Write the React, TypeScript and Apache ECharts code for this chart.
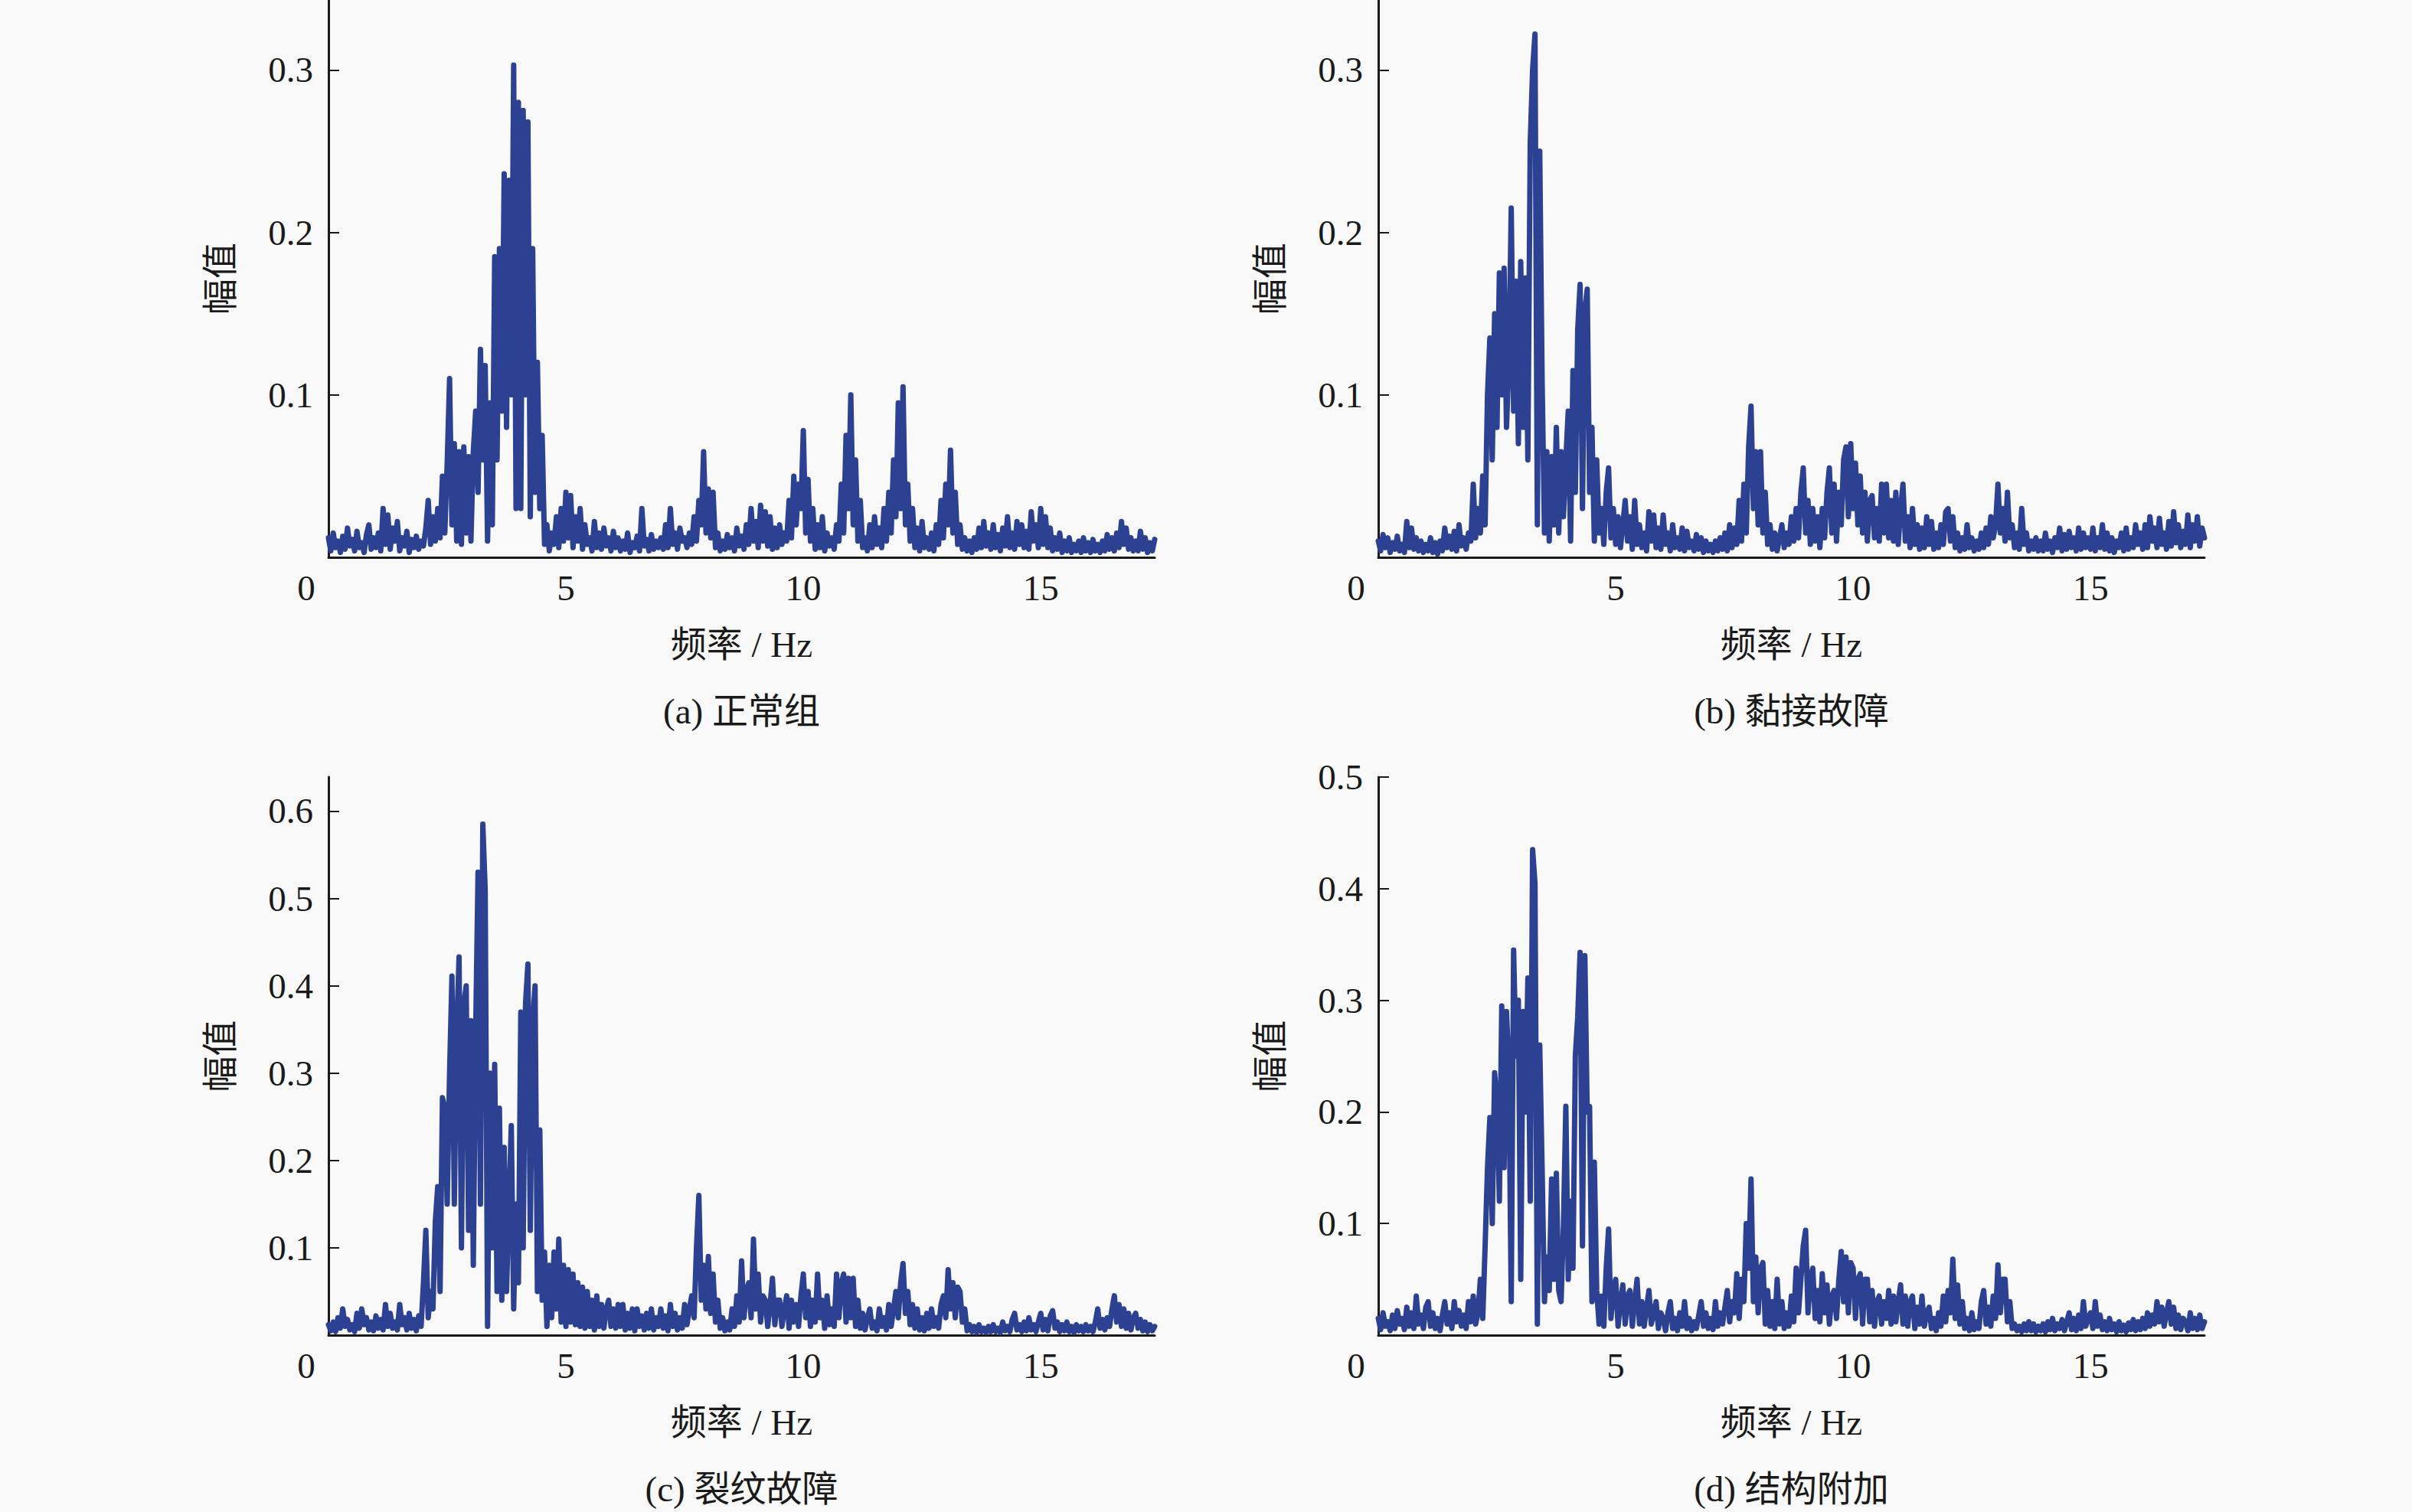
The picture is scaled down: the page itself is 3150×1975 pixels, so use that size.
import React, { useEffect, useRef } from "react";
import * as echarts from "echarts";

// Sample spacing of the spectra (Hz) and axis extents
const FREQ_STEP = 0.05;
const X_MAX = 17.4;
const X_TICKS = [5, 10, 15];

// (a) 正常组 amplitude, 0 … 17.4 Hz every 0.05 Hz
const AMP_A = [
  0.012, 0.004, 0.015, 0.006, 0.010, 0.003, 0.013, 0.005, 0.018, 0.007, 0.011, 0.004, 0.016, 0.006, 0.009, 0.003, 0.014, 0.020, 0.005, 0.012,
  0.006, 0.015, 0.004, 0.030, 0.008, 0.026, 0.005, 0.018, 0.010, 0.022, 0.004, 0.012, 0.007, 0.016, 0.003, 0.011, 0.006, 0.013, 0.005, 0.010,
  0.007, 0.018, 0.035, 0.008, 0.025, 0.010, 0.030, 0.012, 0.050, 0.015, 0.058, 0.110, 0.020, 0.070, 0.010, 0.065, 0.008, 0.068, 0.015, 0.062,
  0.010, 0.065, 0.090, 0.040, 0.128, 0.060, 0.118, 0.010, 0.095, 0.020, 0.185, 0.060, 0.190, 0.090, 0.236, 0.080, 0.232, 0.100, 0.303, 0.030,
  0.280, 0.030, 0.275, 0.100, 0.268, 0.025, 0.190, 0.040, 0.120, 0.030, 0.075, 0.008, 0.020, 0.004, 0.015, 0.008, 0.025, 0.006, 0.030, 0.010,
  0.040, 0.012, 0.038, 0.006, 0.025, 0.010, 0.030, 0.005, 0.020, 0.008, 0.012, 0.004, 0.022, 0.006, 0.015, 0.005, 0.018, 0.007, 0.012, 0.004,
  0.016, 0.006, 0.012, 0.004, 0.010, 0.005, 0.015, 0.003, 0.009, 0.006, 0.013, 0.004, 0.030, 0.007, 0.011, 0.004, 0.014, 0.005, 0.010, 0.006,
  0.012, 0.005, 0.020, 0.006, 0.030, 0.008, 0.015, 0.005, 0.018, 0.010, 0.012, 0.006, 0.015, 0.008, 0.025, 0.010, 0.035, 0.020, 0.065, 0.015,
  0.042, 0.012, 0.040, 0.006, 0.015, 0.004, 0.010, 0.005, 0.014, 0.006, 0.012, 0.004, 0.018, 0.007, 0.013, 0.005, 0.020, 0.008, 0.030, 0.010,
  0.022, 0.006, 0.032, 0.010, 0.028, 0.007, 0.025, 0.005, 0.018, 0.006, 0.020, 0.008, 0.015, 0.010, 0.035, 0.012, 0.050, 0.020, 0.045, 0.030,
  0.078, 0.015, 0.048, 0.010, 0.030, 0.005, 0.020, 0.006, 0.025, 0.004, 0.015, 0.007, 0.012, 0.005, 0.020, 0.010, 0.045, 0.015, 0.075, 0.030,
  0.100, 0.020, 0.060, 0.010, 0.035, 0.006, 0.012, 0.004, 0.020, 0.006, 0.025, 0.008, 0.018, 0.006, 0.030, 0.010, 0.040, 0.015, 0.060, 0.025,
  0.095, 0.030, 0.105, 0.020, 0.045, 0.010, 0.030, 0.006, 0.018, 0.004, 0.022, 0.006, 0.012, 0.005, 0.015, 0.004, 0.020, 0.008, 0.035, 0.012,
  0.045, 0.020, 0.066, 0.015, 0.040, 0.008, 0.020, 0.005, 0.012, 0.004, 0.010, 0.003, 0.012, 0.005, 0.018, 0.006, 0.022, 0.007, 0.015, 0.005,
  0.020, 0.006, 0.014, 0.004, 0.018, 0.007, 0.025, 0.006, 0.015, 0.005, 0.022, 0.008, 0.020, 0.006, 0.016, 0.005, 0.028, 0.010, 0.020, 0.006,
  0.030, 0.008, 0.025, 0.006, 0.018, 0.004, 0.012, 0.005, 0.015, 0.003, 0.010, 0.004, 0.012, 0.003, 0.008, 0.004, 0.010, 0.003, 0.012, 0.004,
  0.009, 0.003, 0.011, 0.004, 0.008, 0.003, 0.010, 0.004, 0.014, 0.005, 0.012, 0.004, 0.015, 0.006, 0.022, 0.008, 0.018, 0.005, 0.012, 0.004,
  0.010, 0.004, 0.016, 0.005, 0.012, 0.003, 0.009, 0.004, 0.011,
];

// (b) 黏接故障
const AMP_B = [
  0.010, 0.004, 0.014, 0.006, 0.012, 0.003, 0.009, 0.005, 0.013, 0.004, 0.008, 0.003, 0.022, 0.006, 0.018, 0.005, 0.012, 0.004, 0.010, 0.003,
  0.008, 0.004, 0.012, 0.003, 0.009, 0.002, 0.010, 0.004, 0.018, 0.006, 0.013, 0.005, 0.016, 0.004, 0.020, 0.007, 0.012, 0.005, 0.015, 0.010,
  0.045, 0.012, 0.030, 0.015, 0.050, 0.020, 0.100, 0.135, 0.060, 0.150, 0.080, 0.175, 0.100, 0.178, 0.080, 0.120, 0.215, 0.090, 0.170, 0.070,
  0.182, 0.080, 0.172, 0.060, 0.255, 0.300, 0.322, 0.020, 0.250, 0.110, 0.015, 0.065, 0.010, 0.062, 0.020, 0.080, 0.015, 0.065, 0.025, 0.060,
  0.090, 0.010, 0.115, 0.040, 0.140, 0.168, 0.030, 0.152, 0.165, 0.040, 0.080, 0.010, 0.060, 0.015, 0.030, 0.008, 0.040, 0.055, 0.012, 0.030,
  0.008, 0.025, 0.006, 0.020, 0.035, 0.010, 0.025, 0.005, 0.035, 0.008, 0.020, 0.006, 0.015, 0.004, 0.028, 0.010, 0.026, 0.006, 0.018, 0.005,
  0.026, 0.008, 0.015, 0.004, 0.020, 0.006, 0.012, 0.005, 0.018, 0.004, 0.016, 0.006, 0.010, 0.004, 0.014, 0.005, 0.012, 0.003, 0.010, 0.004,
  0.008, 0.003, 0.010, 0.004, 0.012, 0.005, 0.015, 0.004, 0.020, 0.006, 0.018, 0.008, 0.035, 0.010, 0.045, 0.015, 0.068, 0.093, 0.030, 0.065,
  0.020, 0.065, 0.015, 0.040, 0.008, 0.020, 0.005, 0.015, 0.004, 0.012, 0.020, 0.006, 0.015, 0.008, 0.025, 0.010, 0.030, 0.012, 0.040, 0.055,
  0.015, 0.035, 0.008, 0.030, 0.010, 0.025, 0.006, 0.030, 0.012, 0.040, 0.055, 0.015, 0.045, 0.010, 0.040, 0.020, 0.060, 0.068, 0.025, 0.070,
  0.030, 0.058, 0.020, 0.050, 0.015, 0.040, 0.010, 0.035, 0.038, 0.012, 0.030, 0.010, 0.045, 0.015, 0.045, 0.012, 0.035, 0.010, 0.040, 0.008,
  0.030, 0.045, 0.010, 0.025, 0.006, 0.030, 0.008, 0.020, 0.005, 0.018, 0.006, 0.025, 0.008, 0.022, 0.005, 0.015, 0.006, 0.020, 0.008, 0.028,
  0.030, 0.010, 0.025, 0.006, 0.015, 0.004, 0.012, 0.005, 0.020, 0.006, 0.012, 0.004, 0.010, 0.005, 0.015, 0.006, 0.018, 0.008, 0.025, 0.012,
  0.020, 0.045, 0.015, 0.030, 0.010, 0.040, 0.012, 0.020, 0.006, 0.015, 0.005, 0.030, 0.008, 0.015, 0.004, 0.010, 0.005, 0.012, 0.004, 0.010,
  0.004, 0.015, 0.005, 0.010, 0.003, 0.012, 0.006, 0.018, 0.004, 0.014, 0.005, 0.016, 0.006, 0.012, 0.004, 0.018, 0.005, 0.015, 0.006, 0.012,
  0.005, 0.018, 0.004, 0.012, 0.006, 0.020, 0.005, 0.015, 0.004, 0.012, 0.003, 0.010, 0.006, 0.015, 0.004, 0.018, 0.005, 0.012, 0.006, 0.020,
  0.008, 0.015, 0.005, 0.020, 0.006, 0.025, 0.010, 0.018, 0.006, 0.024, 0.008, 0.015, 0.005, 0.022, 0.007, 0.028, 0.009, 0.020, 0.006, 0.016,
  0.008, 0.026, 0.006, 0.020, 0.010, 0.025, 0.007, 0.018, 0.012,
];

// (c) 裂纹故障
const AMP_C = [
  0.012, 0.005, 0.015, 0.004, 0.020, 0.008, 0.030, 0.010, 0.018, 0.006, 0.012, 0.004, 0.025, 0.008, 0.030, 0.012, 0.020, 0.006, 0.015, 0.005,
  0.022, 0.008, 0.018, 0.006, 0.035, 0.010, 0.025, 0.008, 0.015, 0.006, 0.035, 0.012, 0.020, 0.006, 0.025, 0.008, 0.018, 0.005, 0.022, 0.010,
  0.060, 0.120, 0.020, 0.050, 0.030, 0.130, 0.170, 0.050, 0.272, 0.260, 0.150, 0.300, 0.411, 0.150, 0.350, 0.433, 0.100, 0.380, 0.400, 0.120,
  0.360, 0.080, 0.350, 0.530, 0.150, 0.585, 0.510, 0.010, 0.300, 0.100, 0.310, 0.050, 0.260, 0.040, 0.215, 0.050, 0.150, 0.240, 0.030, 0.150,
  0.060, 0.370, 0.100, 0.380, 0.425, 0.120, 0.360, 0.400, 0.050, 0.235, 0.040, 0.095, 0.010, 0.080, 0.020, 0.095, 0.030, 0.110, 0.015, 0.080,
  0.010, 0.075, 0.015, 0.070, 0.012, 0.060, 0.010, 0.055, 0.008, 0.050, 0.010, 0.040, 0.006, 0.045, 0.010, 0.035, 0.008, 0.030, 0.040, 0.010,
  0.030, 0.008, 0.035, 0.010, 0.035, 0.006, 0.025, 0.008, 0.030, 0.005, 0.030, 0.010, 0.022, 0.006, 0.025, 0.008, 0.030, 0.006, 0.020, 0.010,
  0.030, 0.008, 0.022, 0.005, 0.035, 0.010, 0.025, 0.006, 0.020, 0.008, 0.035, 0.012, 0.030, 0.045, 0.020, 0.100, 0.160, 0.040, 0.080, 0.030,
  0.090, 0.025, 0.070, 0.015, 0.040, 0.008, 0.020, 0.005, 0.015, 0.006, 0.030, 0.010, 0.045, 0.015, 0.085, 0.020, 0.050, 0.060, 0.020, 0.110,
  0.030, 0.070, 0.015, 0.045, 0.040, 0.010, 0.035, 0.065, 0.012, 0.040, 0.040, 0.010, 0.030, 0.045, 0.008, 0.040, 0.015, 0.035, 0.010, 0.045,
  0.070, 0.020, 0.050, 0.010, 0.040, 0.015, 0.070, 0.020, 0.040, 0.008, 0.045, 0.012, 0.030, 0.010, 0.070, 0.020, 0.060, 0.070, 0.015, 0.065,
  0.020, 0.065, 0.010, 0.040, 0.008, 0.025, 0.006, 0.020, 0.030, 0.008, 0.015, 0.005, 0.030, 0.010, 0.020, 0.006, 0.035, 0.010, 0.030, 0.050,
  0.020, 0.060, 0.082, 0.025, 0.050, 0.012, 0.035, 0.008, 0.030, 0.006, 0.020, 0.005, 0.025, 0.008, 0.030, 0.010, 0.020, 0.008, 0.035, 0.045,
  0.020, 0.075, 0.030, 0.060, 0.020, 0.055, 0.050, 0.015, 0.030, 0.005, 0.012, 0.004, 0.010, 0.003, 0.012, 0.004, 0.008, 0.003, 0.010, 0.004,
  0.012, 0.004, 0.008, 0.003, 0.015, 0.005, 0.010, 0.004, 0.018, 0.025, 0.006, 0.012, 0.004, 0.015, 0.005, 0.020, 0.006, 0.012, 0.004, 0.015,
  0.025, 0.006, 0.018, 0.005, 0.022, 0.028, 0.008, 0.015, 0.004, 0.012, 0.005, 0.015, 0.004, 0.010, 0.003, 0.012, 0.005, 0.010, 0.004, 0.012,
  0.005, 0.010, 0.004, 0.015, 0.030, 0.008, 0.018, 0.006, 0.020, 0.010, 0.030, 0.045, 0.015, 0.035, 0.010, 0.030, 0.008, 0.025, 0.006, 0.020,
  0.025, 0.008, 0.018, 0.005, 0.015, 0.004, 0.012, 0.005, 0.010,
];

// (d) 结构附加
const AMP_D = [
  0.015, 0.005, 0.020, 0.008, 0.012, 0.004, 0.018, 0.006, 0.022, 0.010, 0.015, 0.005, 0.025, 0.008, 0.020, 0.006, 0.035, 0.010, 0.018, 0.006,
  0.025, 0.030, 0.008, 0.020, 0.006, 0.015, 0.004, 0.018, 0.030, 0.010, 0.020, 0.006, 0.030, 0.012, 0.022, 0.008, 0.018, 0.006, 0.030, 0.012,
  0.035, 0.010, 0.020, 0.050, 0.015, 0.080, 0.150, 0.195, 0.100, 0.235, 0.210, 0.120, 0.295, 0.150, 0.290, 0.240, 0.030, 0.345, 0.250, 0.300,
  0.050, 0.290, 0.200, 0.320, 0.120, 0.435, 0.405, 0.010, 0.260, 0.150, 0.030, 0.070, 0.040, 0.140, 0.050, 0.145, 0.040, 0.030, 0.100, 0.205,
  0.050, 0.120, 0.060, 0.250, 0.285, 0.343, 0.080, 0.340, 0.200, 0.205, 0.030, 0.155, 0.040, 0.010, 0.035, 0.008, 0.060, 0.095, 0.015, 0.040,
  0.050, 0.008, 0.030, 0.045, 0.010, 0.035, 0.040, 0.008, 0.030, 0.050, 0.010, 0.030, 0.008, 0.025, 0.040, 0.010, 0.020, 0.030, 0.006, 0.020,
  0.015, 0.004, 0.020, 0.030, 0.006, 0.015, 0.004, 0.020, 0.008, 0.030, 0.006, 0.015, 0.004, 0.012, 0.006, 0.018, 0.030, 0.008, 0.020, 0.006,
  0.015, 0.005, 0.030, 0.008, 0.020, 0.010, 0.025, 0.040, 0.012, 0.030, 0.020, 0.055, 0.015, 0.050, 0.030, 0.100, 0.060, 0.140, 0.030, 0.070,
  0.020, 0.060, 0.065, 0.010, 0.040, 0.008, 0.030, 0.006, 0.050, 0.010, 0.030, 0.006, 0.020, 0.008, 0.035, 0.012, 0.060, 0.020, 0.050, 0.080,
  0.094, 0.020, 0.050, 0.060, 0.015, 0.040, 0.012, 0.055, 0.020, 0.045, 0.010, 0.035, 0.040, 0.015, 0.050, 0.075, 0.030, 0.070, 0.020, 0.065,
  0.060, 0.015, 0.050, 0.055, 0.010, 0.050, 0.050, 0.012, 0.040, 0.008, 0.030, 0.035, 0.010, 0.030, 0.015, 0.040, 0.010, 0.035, 0.012, 0.030,
  0.045, 0.010, 0.035, 0.008, 0.030, 0.035, 0.006, 0.025, 0.010, 0.035, 0.008, 0.020, 0.025, 0.006, 0.015, 0.004, 0.020, 0.008, 0.035, 0.012,
  0.040, 0.020, 0.068, 0.015, 0.045, 0.010, 0.030, 0.006, 0.015, 0.004, 0.020, 0.005, 0.012, 0.006, 0.030, 0.040, 0.010, 0.025, 0.008, 0.035,
  0.015, 0.063, 0.020, 0.050, 0.050, 0.012, 0.030, 0.006, 0.010, 0.004, 0.008, 0.003, 0.010, 0.004, 0.012, 0.004, 0.010, 0.003, 0.008, 0.004,
  0.010, 0.003, 0.012, 0.005, 0.015, 0.004, 0.010, 0.006, 0.014, 0.004, 0.012, 0.020, 0.005, 0.015, 0.004, 0.018, 0.006, 0.030, 0.008, 0.015,
  0.020, 0.006, 0.030, 0.008, 0.018, 0.005, 0.012, 0.004, 0.015, 0.005, 0.010, 0.003, 0.012, 0.004, 0.009, 0.003, 0.011, 0.005, 0.014, 0.004,
  0.012, 0.005, 0.015, 0.006, 0.020, 0.008, 0.018, 0.010, 0.030, 0.012, 0.025, 0.008, 0.020, 0.030, 0.010, 0.025, 0.006, 0.018, 0.005, 0.015,
  0.012, 0.004, 0.020, 0.006, 0.015, 0.005, 0.018, 0.006, 0.012,
];

const Y_MAX = [0.343, 0.343, 0.639, 0.5];
const Y_TICKS = [
  [0.1, 0.2, 0.3],
  [0.1, 0.2, 0.3],
  [0.1, 0.2, 0.3, 0.4, 0.5, 0.6],
  [0.1, 0.2, 0.3, 0.4, 0.5],
];
const CAPTIONS = ["(a) 正常组", "(b) 黏接故障", "(c) 裂纹故障", "(d) 结构附加"];
const Y_NAME = "幅值";
const X_NAME = "频率 / Hz";
const SERIES = [AMP_A, AMP_B, AMP_C, AMP_D];

// Layout (pixels)
const GRIDS = [
  { left: 429, top: 0, width: 1079, height: 728 },
  { left: 1800, top: 0, width: 1079, height: 728 },
  { left: 429, top: 1015, width: 1079, height: 729 },
  { left: 1800, top: 1015, width: 1079, height: 729 },
];

const FONT = '"Liberation Serif", "Times New Roman", "Noto Sans CJK SC", serif';
const FS = 47;
const INK = "#1a1a1a";
const LINE = "#2c4192";

export default function App() {
  const ref = useRef<HTMLDivElement>(null);
  useEffect(() => {
    if (!ref.current) return;
    const chart = echarts.init(ref.current, undefined, { renderer: "svg" });
    const textStyle = { fontSize: FS, fontFamily: FONT, color: INK };
    const graphics: any[] = [];
    GRIDS.forEach((g, i) => {
      const cx = g.left + g.width / 2;
      const bottom = g.top + g.height;
      graphics.push({
        type: "text",
        x: cx,
        y: bottom + 201,
        style: { text: CAPTIONS[i], fontSize: FS, fontFamily: FONT, fill: INK, align: "center", verticalAlign: "middle" },
      });
      graphics.push({
        type: "text",
        x: g.left - 29,
        y: bottom + 40,
        style: { text: "0", fontSize: FS, fontFamily: FONT, fill: INK, align: "center", verticalAlign: "middle" },
      });
    });
    chart.setOption({
      animation: false,
      backgroundColor: "#f9f9f9",
      grid: GRIDS.map((g) => ({ ...g, containLabel: false })),
      xAxis: GRIDS.map((_, i) => ({
        gridIndex: i,
        type: "value",
        min: 0,
        max: X_MAX,
        axisLine: { show: true, lineStyle: { color: INK, width: 3 } },
        axisTick: { show: false },
        splitLine: { show: false },
        axisLabel: { ...textStyle, margin: 16, customValues: X_TICKS, formatter: (v: number) => String(v) },
        name: X_NAME,
        nameLocation: "middle",
        nameGap: 90,
        nameTextStyle: textStyle,
      })),
      yAxis: GRIDS.map((_, i) => ({
        gridIndex: i,
        type: "value",
        min: 0,
        max: Y_MAX[i],
        axisLine: { show: true, lineStyle: { color: INK, width: 3 } },
        axisTick: { show: true, inside: true, length: 14, lineStyle: { color: INK, width: 2 }, customValues: Y_TICKS[i] },
        splitLine: { show: false },
        axisLabel: { ...textStyle, margin: 20, customValues: Y_TICKS[i], formatter: (v: number) => v.toFixed(1) },
        name: Y_NAME,
        nameLocation: "middle",
        nameGap: 118,
        nameRotate: 90,
        nameTextStyle: textStyle,
      })),
      series: SERIES.map((amp, i) => ({
        type: "line",
        xAxisIndex: i,
        yAxisIndex: i,
        data: amp.map((v, k) => [Math.round(k * FREQ_STEP * 100) / 100, v]),
        showSymbol: false,
        symbol: "none",
        silent: true,
        clip: true,
        lineStyle: { color: LINE, width: 7, join: "round", cap: "round" },
      })),
      graphic: graphics,
    });
    return () => chart.dispose();
  }, []);
  return <div ref={ref} style={{ position: "absolute", left: 0, top: 0, width: 3150, height: 1975 }} />;
}
